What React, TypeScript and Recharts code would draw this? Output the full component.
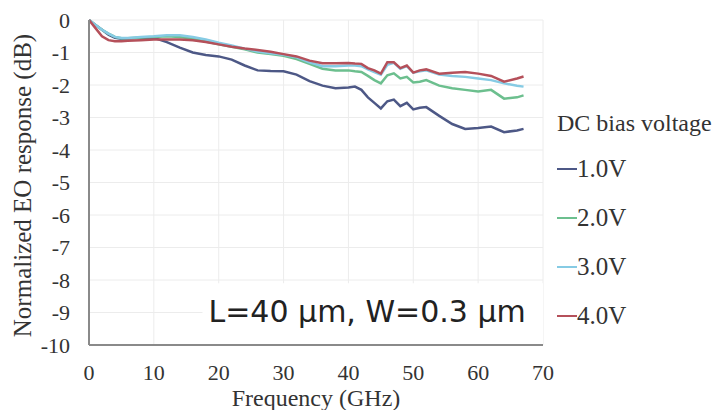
import React from 'react'
import { LineChart, Line, XAxis, YAxis, CartesianGrid, Legend, ReferenceArea, Label } from 'recharts'

// frequency points (GHz)
const freq = [0, 1, 2, 3, 4, 5, 6, 8, 10, 12, 14, 16, 18, 20, 22, 24, 26, 28, 30, 32, 34, 36, 38, 40, 41, 42, 43, 44, 45, 46, 47, 48, 49, 50, 51, 52, 54, 56, 58, 60, 62, 64, 66, 67]

// normalized EO response (dB) per bias voltage
const bias1 = [0, -0.15, -0.3, -0.45, -0.55, -0.58, -0.57, -0.55, -0.55, -0.68, -0.85, -1.0, -1.08, -1.12, -1.22, -1.4, -1.55, -1.57, -1.58, -1.68, -1.88, -2.02, -2.1, -2.08, -2.05, -2.15, -2.38, -2.55, -2.72, -2.5, -2.45, -2.65, -2.55, -2.75, -2.7, -2.68, -2.95, -3.2, -3.35, -3.32, -3.28, -3.45, -3.4, -3.35]
const bias2 = [0, -0.15, -0.3, -0.42, -0.52, -0.56, -0.56, -0.54, -0.52, -0.5, -0.52, -0.58, -0.66, -0.75, -0.82, -0.9, -1.0, -1.05, -1.1, -1.2, -1.35, -1.5, -1.55, -1.55, -1.58, -1.6, -1.72, -1.85, -1.95, -1.7, -1.64, -1.8, -1.75, -1.92, -1.9, -1.85, -2.02, -2.1, -2.15, -2.2, -2.15, -2.42, -2.38, -2.32]
const bias3 = [0, -0.15, -0.3, -0.42, -0.52, -0.55, -0.55, -0.52, -0.5, -0.47, -0.47, -0.52, -0.6, -0.7, -0.78, -0.88, -0.97, -1.02, -1.07, -1.15, -1.3, -1.42, -1.42, -1.4, -1.4, -1.42, -1.52, -1.6, -1.68, -1.38, -1.32, -1.5, -1.42, -1.62, -1.58, -1.55, -1.68, -1.72, -1.75, -1.8, -1.85, -1.95, -2.02, -2.05]
const bias4 = [0, -0.25, -0.5, -0.62, -0.65, -0.65, -0.64, -0.62, -0.6, -0.6, -0.6, -0.62, -0.68, -0.75, -0.82, -0.88, -0.92, -0.98, -1.05, -1.12, -1.25, -1.33, -1.33, -1.32, -1.34, -1.35, -1.48, -1.55, -1.65, -1.3, -1.3, -1.48, -1.4, -1.62, -1.55, -1.52, -1.65, -1.62, -1.6, -1.65, -1.72, -1.9, -1.8, -1.74]

const xTicks = [0, 10, 20, 30, 40, 50, 60, 70]
const yTicks = [0, -1, -2, -3, -4, -5, -6, -7, -8, -9, -10]

const series = [
  { key: 'b1', name: '1.0V', color: '#4d5886', values: bias1 },
  { key: 'b2', name: '2.0V', color: '#6cbf8e', values: bias2 },
  { key: 'b3', name: '3.0V', color: '#86cbe4', values: bias3 },
  { key: 'b4', name: '4.0V', color: '#b5505a', values: bias4 },
]

const data = freq.map((f, i) => {
  const row: any = { f }
  series.forEach((s) => { row[s.key] = s.values[i] })
  return row
})

const SERIF = '"Liberation Serif", "Times New Roman", serif'
const BORDER = '#8a8a8a'

const BiasLegend = ({ payload }: any) => (
  <div style={{ fontFamily: SERIF, color: '#333' }}>
    <div style={{ fontSize: 24, lineHeight: '26px', whiteSpace: 'nowrap' }}>DC bias voltage</div>
    <div style={{ marginTop: 8 }}>
      {(payload || []).map((p: any) => (
        <div key={p.value} style={{ height: 49, display: 'flex', alignItems: 'center', fontSize: 25 }}>
          <span style={{ display: 'inline-block', width: 20, height: 2, background: p.color }} />
          <span>{p.value}</span>
        </div>
      ))}
    </div>
  </div>
)

const YTitle = ({ viewBox }: any) => {
  const cy = viewBox.y + viewBox.height / 2 + 3
  return (
    <text x={22} y={cy} transform={`rotate(-90 22 ${cy})`} textAnchor="middle" dominantBaseline="central"
      fontFamily={SERIF} fontSize={25} fill="#333">
      Normalized EO response (dB)
    </text>
  )
}

export default function App() {
  return (
    <div style={{ position: 'absolute', left: 0, top: 0, background: '#fff' }}>
      <LineChart width={720} height={410} data={data} margin={{ top: 20, right: 177, bottom: 0, left: 0 }}>
        <CartesianGrid stroke="#ececec" strokeWidth={1} />
        <XAxis dataKey="f" type="number" domain={[0, 70]} ticks={xTicks} height={65}
          tickLine={false} tickSize={0} tickMargin={19} axisLine={{ stroke: BORDER, strokeWidth: 2 }}
          tick={{ fontFamily: SERIF, fontSize: 22, fill: '#333' }}>
          <Label value="Frequency (GHz)" position="insideBottom" offset={4} fontFamily={SERIF} fontSize={24} fill="#333" />
        </XAxis>
        <XAxis xAxisId="top" orientation="top" type="number" domain={[0, 70]} height={0} tick={false} tickLine={false}
          axisLine={{ stroke: BORDER, strokeWidth: 2 }} />
        <YAxis type="number" domain={[-10, 0]} ticks={yTicks} width={89} interval={0}
          tickLine={false} tickSize={0} tickMargin={19} axisLine={{ stroke: BORDER, strokeWidth: 2 }}
          tick={{ fontFamily: SERIF, fontSize: 22, fill: '#333' }}>
          <Label content={YTitle} />
        </YAxis>
        <YAxis yAxisId="right" orientation="right" type="number" domain={[-10, 0]} width={0} tick={false} tickLine={false}
          axisLine={{ stroke: BORDER, strokeWidth: 2 }} />
        <ReferenceArea x1={17.5} x2={70} y1={-10} y2={-8.1} fill="#fff" fillOpacity={1} stroke="none">
          <Label value="L=40 μm, W=0.3 μm" position="insideLeft" offset={6} dy={-3}
            fontFamily='"DejaVu Sans", Verdana, sans-serif' fontSize={30} fill="#222" />
        </ReferenceArea>
        {series.map((s) => (
          <Line key={s.key} dataKey={s.key} name={s.name} stroke={s.color} strokeWidth={2.5}
            dot={false} type="linear" isAnimationActive={false} />
        ))}
        <Legend layout="vertical" align="center" verticalAlign="middle" content={BiasLegend}
          wrapperStyle={{ position: 'absolute', left: 557, top: 110, width: 163 }} />
      </LineChart>
    </div>
  )
}
